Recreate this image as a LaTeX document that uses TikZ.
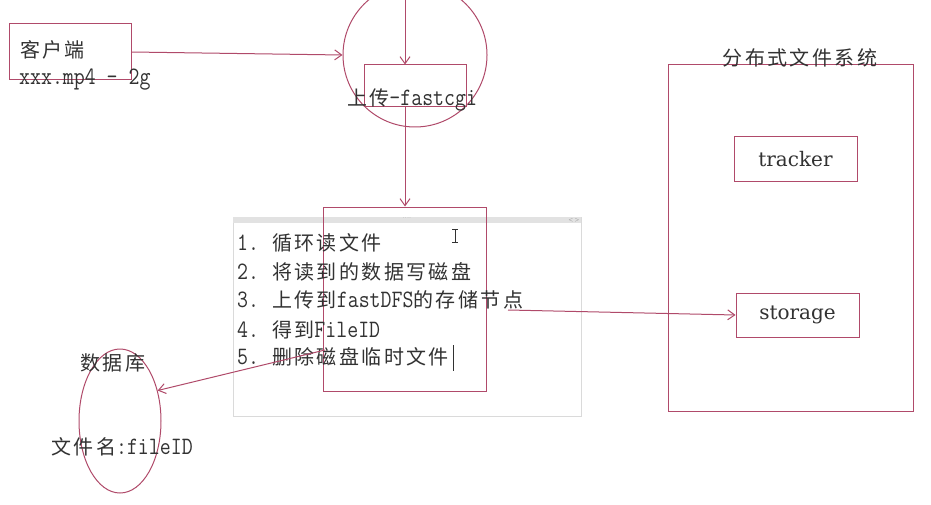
\documentclass[tikz,border=0pt]{standalone}
\usepackage{fontspec}
\usepackage{tikz}
\usetikzlibrary{shapes.geometric,arrows.meta}
\setmonofont[FakeStretch=0.85]{Latin Modern Mono}
\newfontfamily\cjk[LetterSpace=12]{Noto Sans CJK SC}
\newfontfamily\partfont{DejaVu Serif}
\newcommand{\zh}[1]{{\fontsize{20}{24}\selectfont\cjk #1}}
\definecolor{pen}{RGB}{176,74,106}
\definecolor{ink}{RGB}{50,50,50}
\definecolor{frame}{RGB}{218,218,218}
\definecolor{bar}{RGB}{226,226,226}
\tikzset{
  box/.style={draw=pen, line width=1pt, inner sep=0pt},
  word/.style={text=ink, font=\fontsize{25}{28}\selectfont\ttfamily, inner sep=0pt},
  partname/.style={text=ink, font=\fontsize{20}{24}\selectfont\partfont},
  link/.style={-{Straight Barb[length=7pt,width=10pt]}, draw=pen, line width=1pt},
}

\begin{document}
\begin{tikzpicture}[x=1pt,y=-1pt]
    \useasboundingbox (0,0) rectangle (931,505);
    \clip (0,0) rectangle (931,505);
    \fill[white] (0,0) rectangle (931,505);

    % Client
    \node[box, minimum width=122pt, minimum height=56pt] (client) at (70,52) {};
    \node[word, anchor=west] (clientname) at (20,50) {\zh{客户端}};
    \node[word, anchor=west] (clientfile) at (19,80) {xxx.mp4 - 2g};

    % Upload cgi
    \node[box, circle, minimum size=144pt] (cgi) at (415,55) {};
    \node[box, minimum width=102pt, minimum height=42pt] (cgibox) at (415,86) {};
    \node[word] (cginame) at (412,100) {\zh{上传}-fastcgi};
    \coordinate (cgitop) at (405,-2);

    % Editor window with the steps
    \node[draw=frame, line width=0.8pt, minimum width=348pt, minimum height=199pt] (window) at (407,316.5) {};
    \fill[bar] (window.north west) rectangle ([yshift=-6pt]window.north east);
    \node[font=\tiny, text=gray, inner sep=0pt] (grip) at (407,218.5) {....};
    \node[font=\tiny, text=gray, inner sep=0pt] (arrows) at (574,220) {\textless\,\textgreater};
    \node[box, minimum width=163pt, minimum height=184pt] (work) at (404.5,299) {};
    \node[word, anchor=west] (step1) at (237,243) {1.\hspace{13pt}\zh{循环读文件}};
    \node[word, anchor=west] (step2) at (237,272) {2.\hspace{13pt}\zh{将读到的数据写磁盘}};
    \node[word, anchor=west] (step3) at (237,300) {3.\hspace{13pt}\zh{上传到}fastDFS\zh{的存储节点}};
    \node[word, anchor=west] (step4) at (237,330) {4.\hspace{13pt}\zh{得到}FileID};
    \node[word, anchor=west] (step5) at (237,357) {5.\hspace{13pt}\zh{删除磁盘临时文件}};
    \draw[ink, line width=0.8pt] (453,345) -- (453,371); % caret
    \draw[ink, line width=0.7pt] (455,229) -- (455,242) (452,229) -- (458,229) (452,242) -- (458,242); % mouse
    \coordinate (dot) at (508,310);
    \coordinate (del) at (325,350);

    % Distributed file system
    \node[box, minimum width=245pt, minimum height=346pt] (dfs) at (790.5,238) {};
    \node[word] (dfsname) at (800,58) {\zh{分布式文件系统}};
    \node[box, partname, minimum width=123pt, minimum height=45pt] (tracker) at (795.5,159.5) {tracker\hspace{12pt}};
    \node[box, partname, minimum width=123pt, minimum height=44pt] (storage) at (797.5,315) {storage\hspace{10pt}};

    % Database
    \node[box, ellipse, minimum width=82pt, minimum height=144pt] (db) at (120,421) {};
    \node[word] (dbname) at (113,363) {\zh{数据库}};
    \node[word] (dbfield) at (122,447) {\zh{文件名}:fileID};

    % Draw arrows
    \draw[link] (client.east) -- (cgi.west);
    \draw[link] (cgitop) -- (cgitop |- cgibox.north);
    \draw[link] (cgitop |- cgibox.south) -- (cgitop |- work.north);
    \draw[link] (dot) -- (storage.west);
    \draw[link] (del) -- (db.39);
\end{tikzpicture}
\end{document}
